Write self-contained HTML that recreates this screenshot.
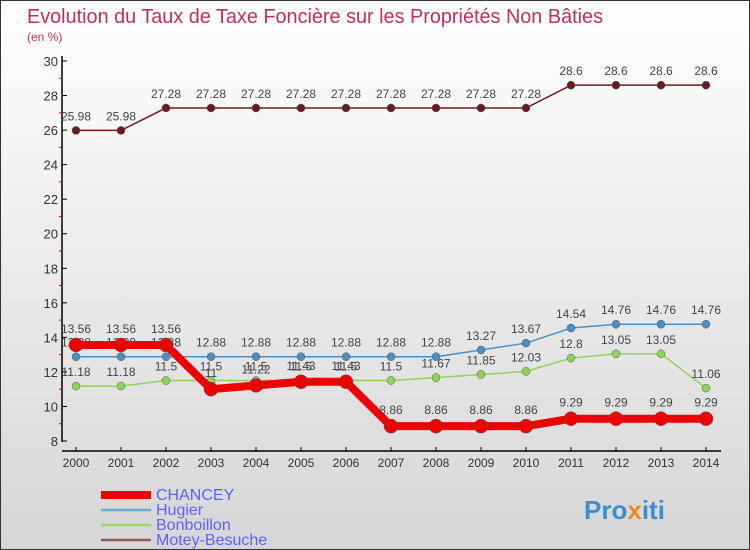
<!DOCTYPE html>
<html><head><meta charset="utf-8"><style>
body{margin:0}
#wrap{width:748px;height:548px;border:1px solid #333;background:linear-gradient(#ffffff,#d6d6d6);position:relative;overflow:hidden;font-family:"Liberation Sans",sans-serif}
svg text{font-family:"Liberation Sans",sans-serif}
</style></head><body>
<div id="wrap">
<svg id="c" width="748" height="548">
<text x="26" y="22" font-size="20" fill="#c0305a" textLength="576" lengthAdjust="spacingAndGlyphs">Evolution du Taux de Taxe Foncière sur les Propriétés Non Bâties</text>
<text x="26" y="40" font-size="12" fill="#c0305a">(en %)</text>
</svg>
</div>
<script>
const years=[2000,2001,2002,2003,2004,2005,2006,2007,2008,2009,2010,2011,2012,2013,2014];
const yTicks=[8,10,12,14,16,18,20,22,24,26,28,30];
const chancey=[13.56,13.56,13.56,11,11.22,11.43,11.43,8.86,8.86,8.86,8.86,9.29,9.29,9.29,9.29];
const hugier=[12.88,12.88,12.88,12.88,12.88,12.88,12.88,12.88,12.88,13.27,13.67,14.54,14.76,14.76,14.76];
const bonboillon=[11.18,11.18,11.5,11.5,11.5,11.5,11.5,11.5,11.67,11.85,12.03,12.8,13.05,13.05,11.06];
const motey=[25.98,25.98,27.28,27.28,27.28,27.28,27.28,27.28,27.28,27.28,27.28,28.6,28.6,28.6,28.6];
const names=["CHANCEY","Hugier","Bonboillon","Motey-Besuche"];
const svg=document.getElementById('c');const NS="http://www.w3.org/2000/svg";
function X(i){return 75+i*45;}
function Y(v){return 440-(v-8)*380/22;}
function mk(t,a,p){const e=document.createElementNS(NS,t);for(const k in a)e.setAttribute(k,a[k]);(p||svg).appendChild(e);return e;}
let ax=mk('line',{x1:61,y1:55,x2:61,y2:441,stroke:'#000','stroke-width':1.5});


let bx=mk('line',{x1:61,y1:450,x2:720,y2:450,stroke:'#000','stroke-width':1.5});


yTicks.forEach(v=>{
 mk('line',{x1:61,y1:Y(v),x2:66,y2:Y(v),stroke:'#000'});
 if(v<30)mk('line',{x1:58,y1:Y(v+1),x2:61,y2:Y(v+1),stroke:'#e00'});
 const t=mk('text',{x:57,y:Y(v)+5,'text-anchor':'end','font-size':13,fill:'#333'});t.textContent=v;
 
 
});
years.forEach((yr,i)=>{
 mk('line',{x1:X(i),y1:446,x2:X(i),y2:450,stroke:'#000'});
 const t=mk('text',{x:X(i),y:466,'text-anchor':'middle','font-size':12,fill:'#333'});t.textContent=yr;
 
 
});
function series(data,color,w,r,name,lblDy){
 const g=mk('g',{});
 
 
 mk('polyline',{points:data.map((v,i)=>X(i)+','+Y(v)).join(' '),fill:'none',stroke:color,'stroke-width':w,'stroke-linejoin':'round'},g);
 data.forEach((v,i)=>{
  const c=mk('circle',{cx:X(i),cy:Y(v),r:r,fill:color,stroke:'#555','stroke-width':0.5},g);
  
  
  const t=mk('text',{x:X(i),y:Y(v)+lblDy,'text-anchor':'middle','font-size':12,fill:'#444'},g);
  t.textContent=v;
  
  
 });
}
series(motey,'#6b1a1e',1.5,4,'motey-besuche',-10);
series(bonboillon,'#8fd45a',1.5,4,'bonboillon',-10);
series(hugier,'#4a90c8',1.5,4,'hugier',-10);
series(chancey,'#ee0000',8,7,'chancey',-12);
const cols=['#ee0000','#6aaad8','#9ad86a','#8b5a5a'];const ws=[8,2.5,2.5,2.5];
names.forEach((n,i)=>{
 const y=492+i*15;
 const l=mk('line',{x1:100,y1:y+2,x2:150,y2:y+2,stroke:cols[i],'stroke-width':ws[i]});
 
 
 const t=mk('text',{x:155,y:y+7,'font-size':16,fill:'#6060ff'});t.textContent=n;
 
 
});
const lg=mk('text',{x:583,y:518,'font-size':26,'font-weight':'bold',fill:'#3a8fd0'});


lg.innerHTML='Pro<tspan fill="#f08a20">x</tspan>iti';
</script>
</body></html>
